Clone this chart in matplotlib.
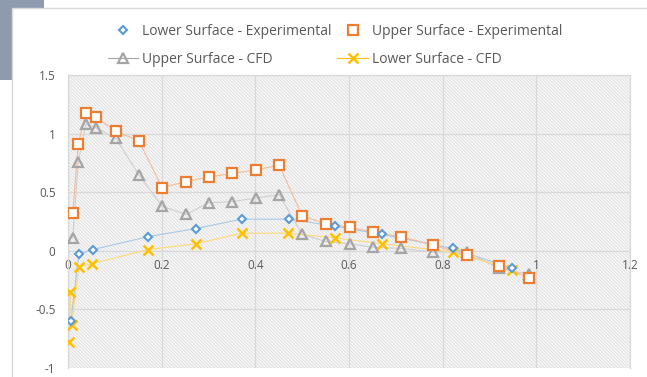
import matplotlib
matplotlib.use('Agg')
import matplotlib.pyplot as plt
from matplotlib.lines import Line2D
from matplotlib.patches import Rectangle

# pressure coefficient data along the chord
lower_exp_x = [0.006, 0.023, 0.053, 0.170, 0.273, 0.371, 0.472, 0.570, 0.670, 0.821, 0.949]
lower_exp_y = [-0.60, -0.03, 0.01, 0.12, 0.19, 0.27, 0.27, 0.21, 0.14, 0.02, -0.15]

upper_exp_x = [0.010, 0.022, 0.038, 0.060, 0.102, 0.151, 0.201, 0.252, 0.300, 0.351, 0.401,
               0.451, 0.500, 0.550, 0.602, 0.651, 0.711, 0.780, 0.851, 0.920, 0.985]
upper_exp_y = [0.32, 0.91, 1.18, 1.14, 1.02, 0.94, 0.54, 0.59, 0.63, 0.66, 0.69,
               0.73, 0.30, 0.23, 0.20, 0.16, 0.12, 0.05, -0.04, -0.13, -0.23]

upper_cfd_x = [0.010, 0.022, 0.038, 0.060, 0.102, 0.151, 0.201, 0.252, 0.300, 0.351, 0.401,
               0.451, 0.500, 0.550, 0.602, 0.651, 0.711, 0.780, 0.851, 0.920, 0.985]
upper_cfd_y = [0.11, 0.76, 1.08, 1.05, 0.96, 0.65, 0.38, 0.31, 0.41, 0.42, 0.45,
               0.48, 0.14, 0.08, 0.06, 0.03, 0.02, -0.01, -0.01, -0.15, -0.20]

lower_cfd_x = [0.002, 0.004, 0.008, 0.023, 0.051, 0.170, 0.273, 0.371, 0.470, 0.570, 0.670, 0.821, 0.949]
lower_cfd_y = [-0.78, -0.35, -0.63, -0.14, -0.11, 0.01, 0.06, 0.15, 0.15, 0.11, 0.06, -0.01, -0.16]

x_ticks = [0, 0.2, 0.4, 0.6, 0.8, 1, 1.2]
y_ticks = [-1, -0.5, 0, 0.5, 1, 1.5]

text_color = '#595959'
grid_color = '#D9D9D9'

plt.rcParams['hatch.linewidth'] = 0.6

fig = plt.figure(figsize=(6.47, 3.77), dpi=100)
fig.patch.set_facecolor('white')

# slate block in the top-left corner behind the chart
fig.patches.append(Rectangle((0, 1 - 80 / 377), 44 / 647, 80 / 377, transform=fig.transFigure,
                             facecolor='#8E9AAE', edgecolor='none', zorder=-2))
fig.patches.append(Rectangle((12 / 647, -0.1), 1.2, 1 - 8 / 377 + 0.1, transform=fig.transFigure,
                             facecolor='white', edgecolor=grid_color, linewidth=1, zorder=-1))

ax = fig.add_axes([68 / 647, 9 / 377, 562 / 647, 293 / 377])
ax.set_facecolor('white')
# fine diagonal texture filling the plot area
ax.add_patch(Rectangle((0, 0), 1, 1, transform=ax.transAxes, facecolor='#F7F7F7',
                       edgecolor='#DEDEDE', hatch='\\' * 10, linewidth=0, zorder=0))

ax.plot(lower_exp_x, lower_exp_y, color='#A9C8E8', linewidth=0.8, zorder=2)
ax.plot(upper_exp_x, upper_exp_y, color='#F5BC96', linewidth=0.8, zorder=2)
ax.plot(upper_cfd_x, upper_cfd_y, color='#CFCFCF', linewidth=0.8, zorder=2)
ax.plot(lower_cfd_x, lower_cfd_y, color='#FFD97A', linewidth=0.8, zorder=2)

ax.plot(upper_cfd_x, upper_cfd_y, linestyle='none', marker='^', markersize=6.5,
        markerfacecolor='none', markeredgecolor='#A5A5A5', markeredgewidth=1.6, zorder=3)
ax.plot(lower_cfd_x, lower_cfd_y, linestyle='none', marker='x', markersize=6.5,
        markeredgecolor='#FFC000', markeredgewidth=1.8, zorder=3)
ax.plot(upper_exp_x, upper_exp_y, linestyle='none', marker='s', markersize=7,
        markerfacecolor='white', markeredgecolor='#ED7D31', markeredgewidth=1.6, zorder=4)
ax.plot(lower_exp_x, lower_exp_y, linestyle='none', marker='D', markersize=4.5,
        markerfacecolor='white', markeredgecolor='#5B9BD5', markeredgewidth=1.5, zorder=5)

ax.set_xlim(0, 1.2)
ax.set_ylim(-1, 1.5)
ax.set_xticks(x_ticks)
ax.set_xticklabels([f'{v:g}' for v in x_ticks])
ax.set_yticks(y_ticks)
ax.set_yticklabels([f'{v:g}' for v in y_ticks])
ax.grid(True, color=grid_color, linewidth=0.9, zorder=1)
ax.set_axisbelow(True)

ax.spines['bottom'].set_position(('data', 0))
for side in ['top', 'right', 'left', 'bottom']:
    ax.spines[side].set_color(grid_color)
    ax.spines[side].set_linewidth(0.9)
ax.spines['bottom'].set_visible(False)
ax.tick_params(axis='both', length=0, colors=text_color, labelsize=8.5)
ax.tick_params(axis='y', pad=9)
ax.tick_params(axis='x', pad=6)
for lbl in ax.get_xticklabels() + ax.get_yticklabels():
    lbl.set_fontfamily('Open Sans')

handles = [
    Line2D([], [], linestyle='none', marker='D', markersize=4.5, markerfacecolor='white',
           markeredgecolor='#5B9BD5', markeredgewidth=1.5),
    Line2D([], [], color='#A5A5A5', linewidth=0.8, marker='^', markersize=6.5,
           markerfacecolor='none', markeredgecolor='#A5A5A5', markeredgewidth=1.6),
    Line2D([], [], linestyle='none', marker='s', markersize=7, markerfacecolor='white',
           markeredgecolor='#ED7D31', markeredgewidth=1.6),
    Line2D([], [], color='#FFC000', linewidth=0.8, marker='x', markersize=6.5,
           markeredgecolor='#FFC000', markeredgewidth=1.8),
]
labels = ['Lower Surface - Experimental', 'Upper Surface - CFD',
          'Upper Surface - Experimental', 'Lower Surface - CFD']
leg = fig.legend(handles, labels, ncol=2, loc='center', bbox_to_anchor=(335 / 647, 1 - 45.5 / 377),
                 frameon=False, handlelength=2.2, handletextpad=0.3, columnspacing=0.4,
                 labelspacing=0.95, prop={'family': 'Open Sans', 'size': 10})
for t in leg.get_texts():
    t.set_color(text_color)

fig.savefig('out.png', dpi=100)
